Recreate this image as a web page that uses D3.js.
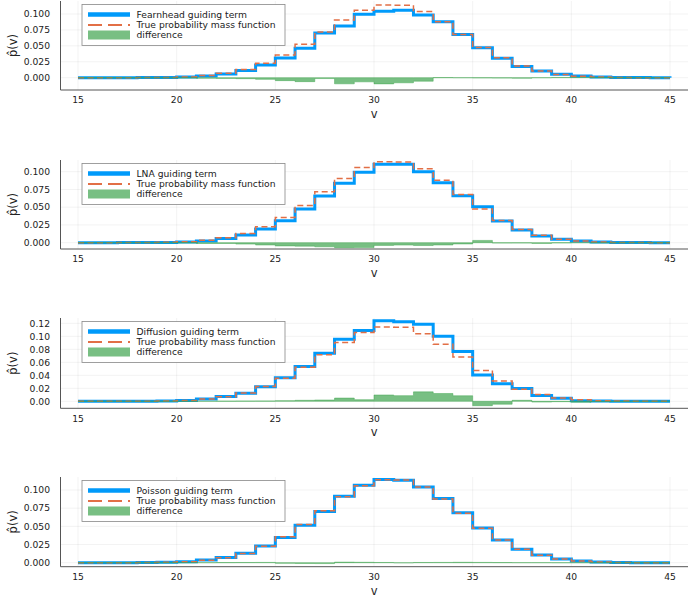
<!DOCTYPE html>
<html>
<head>
<meta charset="utf-8">
<script src="https://cdn.jsdelivr.net/npm/d3@7"></script>
<style>
  body { margin: 0; background: #fff; }
  svg { display: block; font-family: "DejaVu Sans", sans-serif; }
  .grid line { stroke: #000; stroke-opacity: 0.1; stroke-width: 0.5; }
  .tick-label { font-size: 9.2px; fill: #222; }
  .axis-title { font-size: 11.5px; fill: #222; }
  .legend-text { font-size: 9.2px; fill: #222; }
</style>
</head>
<body>
<svg id="chart" width="689" height="600"></svg>
<script>
// Guiding-term comparison — four stacked step plots

const vValues = [15, 16, 17, 18, 19, 20, 21, 22, 23, 24, 25, 26, 27, 28, 29, 30,
                 31, 32, 33, 34, 35, 36, 37, 38, 39, 40, 41, 42, 43, 44, 45];

const trueProbs = [0, 0, 0.0001, 0.0002, 0.0005, 0.0013, 0.0035, 0.0069, 0.0128, 0.0226,
    0.0356, 0.0524, 0.0716, 0.0906, 0.1060, 0.1142, 0.1138, 0.1040, 0.0878, 0.0680,
    0.0475, 0.0312, 0.0184, 0.0104, 0.0050, 0.0024, 0.0010, 0.0004, 0.0001, 0, 0];

const fearnheadProbs = [0, 0, 0.0001, 0.0002, 0.0004, 0.0010, 0.0027, 0.0058, 0.0113, 0.0200,
    0.0310, 0.0462, 0.0703, 0.0810, 0.0995, 0.1045, 0.1058, 0.0985, 0.0880, 0.0680,
    0.0472, 0.0306, 0.0176, 0.0104, 0.0054, 0.0028, 0.0012, 0.0005, 0.0002, 0.0001, 0];
const fearnheadDiff = [0, 0, 0, 0, -0.0001, -0.0003, -0.0008, -0.0011, -0.0015, -0.0026,
    -0.0046, -0.0062, -0.0013, -0.0096, -0.0065, -0.0097, -0.0080, -0.0055, 0.0002, 0,
    -0.0003, -0.0006, -0.0008, 0, 0.0004, 0.0004, 0.0002, 0.0001, 0.0001, 0.0001, 0];

const lnaProbs = [0, 0, 0.0001, 0.0002, 0.0004, 0.0010, 0.0024, 0.0058, 0.0108, 0.0193,
    0.0310, 0.0475, 0.0658, 0.0836, 0.0991, 0.1104, 0.1104, 0.1000, 0.0845, 0.0662,
    0.0507, 0.0306, 0.0179, 0.0094, 0.0047, 0.0024, 0.0008, 0.0003, 0.0001, 0, 0];
const lnaDiff = [0, 0, 0, 0, -0.0001, -0.0003, -0.0011, -0.0011, -0.0020, -0.0033,
    -0.0046, -0.0049, -0.0058, -0.0070, -0.0069, -0.0038, -0.0034, -0.0040, -0.0033, -0.0018,
    0.0032, -0.0006, -0.0005, -0.0010, -0.0003, 0, -0.0002, -0.0001, 0, 0, 0];

const diffusionProbs = [0, 0, 0.0001, 0.0002, 0.0005, 0.0013, 0.0035, 0.0072, 0.0125, 0.0225,
    0.0362, 0.0535, 0.0738, 0.0956, 0.1090, 0.1240, 0.1225, 0.1185, 0.1000, 0.0765,
    0.0405, 0.0268, 0.0196, 0.0088, 0.0045, 0.0008, 0.0004, 0.0001, 0, 0, 0];
const diffusionDiff = [0, 0, 0, 0, 0, 0.0001, 0.0001, 0.0003, 0.0005, 0.0006,
    0.0010, 0.0015, 0.0020, 0.0050, 0.0025, 0.0097, 0.0087, 0.0145, 0.0120, 0.0085,
    -0.0068, -0.0045, 0.0015, -0.0012, -0.0006, -0.0016, -0.0005, -0.0002, 0, 0, 0];

const poissonProbs = [0, 0, 0.0001, 0.0002, 0.0005, 0.0013, 0.0036, 0.0071, 0.0131, 0.0230,
    0.0348, 0.0514, 0.0704, 0.0914, 0.1066, 0.1145, 0.1136, 0.1043, 0.0882, 0.0686,
    0.0479, 0.0314, 0.0185, 0.0105, 0.0050, 0.0024, 0.0010, 0.0004, 0.0001, 0, 0];
const poissonDiff = [0, 0, 0, 0, 0, 0, 0.0001, 0.0002, 0.0003, 0.0004,
    -0.0008, -0.0010, -0.0012, 0.0008, 0.0006, 0.0003, -0.0002, 0.0003, 0.0004, 0.0006,
    0.0004, 0.0002, 0.0001, 0.0001, 0, 0, 0, 0, 0, 0, 0];

const guideNames = ['Fearnhead guiding term', 'LNA guiding term', 'Diffusion guiding term', 'Poisson guiding term'];
const xTicks = [15, 20, 25, 30, 35, 40, 45];
const yTicksStd = [0, 0.025, 0.05, 0.075, 0.1];
const yTicksDiffusion = [0, 0.02, 0.04, 0.06, 0.08, 0.1, 0.12];

(function () {
    const BLUE = '#009AFA';
    const RED = '#E26F46';
    const GREEN = '#3EA44E';
    const LEFT = 60.5, RIGHT = 688;

    const panels = [
        { name: guideNames[0], probs: fearnheadProbs, diff: fearnheadDiff, ticks: yTicksStd, fmt: '.3f',
          top: 1, bottom: 90, domain: [-0.0193, 0.1204] },
        { name: guideNames[1], probs: lnaProbs, diff: lnaDiff, ticks: yTicksStd, fmt: '.3f',
          top: 160, bottom: 249, domain: [-0.0089, 0.1165] },
        { name: guideNames[2], probs: diffusionProbs, diff: diffusionDiff, ticks: yTicksDiffusion, fmt: '.2f',
          top: 318, bottom: 408.3, domain: [-0.0108, 0.1282] },
        { name: guideNames[3], probs: poissonProbs, diff: poissonDiff, ticks: yTicksStd, fmt: '.3f',
          top: 477, bottom: 566.7, domain: [-0.0055, 0.1179] }
    ];

    const svg = d3.select('#chart');
    svg.append('rect').attr('width', 689).attr('height', 600).attr('fill', '#fff');

    // x scale is shared: 15 -> 78, 45 -> 670
    const x = d3.scaleLinear().domain([15, 45]).range([78, 670]);

    panels.forEach(p => drawPanel(p));

    function drawPanel(p) {
        const y = d3.scaleLinear().domain(p.domain).range([p.bottom, p.top]);
        const g = svg.append('g');

        // grid
        const grid = g.append('g').attr('class', 'grid');
        grid.selectAll('.gx').data(xTicks).join('line')
            .attr('x1', d => x(d)).attr('x2', d => x(d))
            .attr('y1', p.top).attr('y2', p.bottom);
        grid.selectAll('.gy').data(p.ticks).join('line')
            .attr('x1', LEFT).attr('x2', RIGHT)
            .attr('y1', d => y(d)).attr('y2', d => y(d));

        // axes lines
        g.append('line').attr('x1', LEFT).attr('x2', LEFT)
            .attr('y1', p.top).attr('y2', p.bottom)
            .attr('stroke', '#555').attr('stroke-width', 1);
        g.append('line').attr('x1', LEFT).attr('x2', RIGHT)
            .attr('y1', p.bottom).attr('y2', p.bottom)
            .attr('stroke', '#555').attr('stroke-width', 1);

        // tick labels
        const fmt = d3.format(p.fmt);
        g.selectAll('.ytl').data(p.ticks).join('text')
            .attr('class', 'tick-label')
            .attr('x', 50).attr('y', d => y(d)).attr('dy', '0.35em')
            .attr('text-anchor', 'end')
            .text(d => fmt(d));
        g.selectAll('.xtl').data(xTicks).join('text')
            .attr('class', 'tick-label')
            .attr('x', d => x(d)).attr('y', p.bottom + 10).attr('dy', '0.35em')
            .attr('text-anchor', 'middle')
            .text(d => d);

        // axis titles
        g.append('text').attr('class', 'axis-title')
            .attr('x', (LEFT + RIGHT) / 2).attr('y', p.bottom + 24).attr('dy', '0.35em')
            .attr('text-anchor', 'middle').text('v');
        g.append('text').attr('class', 'axis-title')
            .attr('transform', `translate(13,${(p.top + p.bottom) / 2}) rotate(-90)`)
            .attr('dy', '0.35em')
            .attr('text-anchor', 'middle').text('p\u0302(v)');

        // series
        const line = d3.line().curve(d3.curveStepAfter)
            .x((d, i) => x(vValues[i])).y(d => y(d));
        const area = d3.area().curve(d3.curveStepAfter)
            .x((d, i) => x(vValues[i])).y0(y(0)).y1(d => y(d));

        g.append('path').datum(p.probs)
            .attr('d', line).attr('fill', 'none')
            .attr('stroke', BLUE).attr('stroke-width', 3)
            .attr('stroke-linejoin', 'miter');
        g.append('path').datum(trueProbs)
            .attr('d', line).attr('fill', 'none')
            .attr('stroke', RED).attr('stroke-width', 1.5)
            .attr('stroke-dasharray', '6,3.5');
        g.append('path').datum(p.diff)
            .attr('d', area)
            .attr('fill', GREEN).attr('fill-opacity', 0.7)
            .attr('stroke', GREEN).attr('stroke-opacity', 0.45).attr('stroke-width', 1);

        // legend
        const lx = 82, ly = p.top + 3.5;
        const lg = g.append('g');
        lg.append('rect').attr('x', lx).attr('y', ly).attr('width', 203).attr('height', 41)
            .attr('fill', '#fff').attr('stroke', '#888').attr('stroke-width', 0.8);
        const rows = [ly + 10, ly + 20.5, ly + 30.5];
        lg.append('line').attr('x1', 88).attr('x2', 130).attr('y1', rows[0]).attr('y2', rows[0])
            .attr('stroke', BLUE).attr('stroke-width', 4.5);
        lg.append('line').attr('x1', 88).attr('x2', 130).attr('y1', rows[1]).attr('y2', rows[1])
            .attr('stroke', RED).attr('stroke-width', 2.2).attr('stroke-dasharray', '14,6');
        lg.append('rect').attr('x', 88).attr('y', rows[2] - 4.5).attr('width', 42).attr('height', 9)
            .attr('fill', GREEN).attr('fill-opacity', 0.7);
        const labels = [p.name, 'True probability mass function', 'difference'];
        lg.selectAll('.lt').data(labels).join('text')
            .attr('class', 'legend-text')
            .attr('x', 136.5).attr('y', (d, i) => rows[i]).attr('dy', '0.35em')
            .text(d => d);
    }
})();
</script>
</body>
</html>
